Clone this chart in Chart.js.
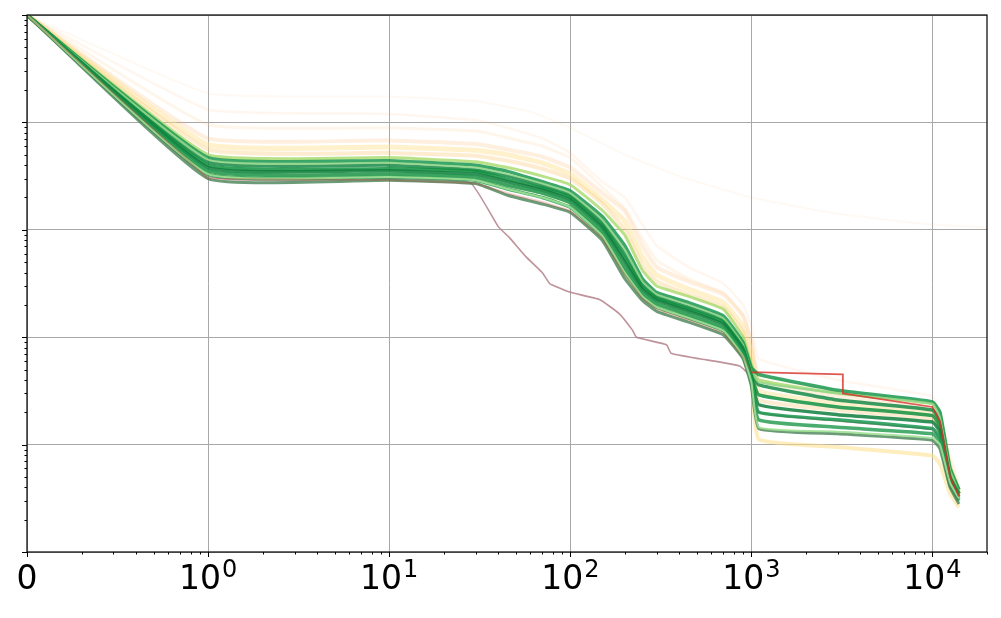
<!DOCTYPE html>
<html>
<head>
<meta charset="utf-8">
<script src="https://cdn.jsdelivr.net/npm/chart.js@4.4.0/dist/chart.umd.min.js"></script>
<style>
  html, body { margin: 0; padding: 0; background: #fff; }
  #wrap { width: 1001px; height: 618px; }
</style>
</head>
<body>
<div id="wrap"><canvas id="curves"></canvas></div>
<script>
// shared x positions (the first point, step 0, sits on the "0" tick at 0.1)
var steps = [0.1, 1, 10, 30, 45, 70, 100, 150, 200, 250, 300, 450, 700, 900, 1000, 1100, 3000, 10000, 11000, 12500, 14000];

// green runs
var green1 = [1, 4.7e-2, 4.4e-2, 4.0e-2, 3.5e-2, 2.8e-2, 2.3e-2, 1.33e-2, 7.1e-3, 3.5e-3, 2.6e-3, 2.1e-3, 1.58e-3, 8.9e-4, 5.2e-4, 4.5e-4, 3.2e-4, 2.5e-4, 2.0e-4, 6.0e-5, 3.8e-5];
var green2 = [1, 4.3e-2, 4.0e-2, 3.6e-2, 3.16e-2, 2.57e-2, 2.1e-2, 1.18e-2, 6.0e-3, 3.16e-3, 2.4e-3, 1.9e-3, 1.45e-3, 8.3e-4, 4.7e-4, 3.6e-4, 2.6e-4, 2.1e-4, 1.66e-4, 5.5e-5, 3.5e-5];
var green3 = [1, 4.0e-2, 3.7e-2, 3.5e-2, 2.95e-2, 2.45e-2, 2.0e-2, 1.1e-2, 5.4e-3, 2.95e-3, 2.3e-3, 1.82e-3, 1.38e-3, 7.9e-4, 4.4e-4, 2.9e-4, 2.24e-4, 1.86e-4, 1.48e-4, 5.0e-5, 3.5e-5];
var green4 = [1, 3.8e-2, 3.55e-2, 3.3e-2, 2.8e-2, 2.35e-2, 1.9e-2, 1.05e-2, 5.0e-3, 2.8e-3, 2.2e-3, 1.74e-3, 1.32e-3, 7.6e-4, 4.2e-4, 2.35e-4, 1.9e-4, 1.62e-4, 1.32e-4, 4.8e-5, 3.3e-5];
var green5 = [1, 3.55e-2, 3.3e-2, 3.1e-2, 2.6e-2, 2.2e-2, 1.78e-2, 9.6e-3, 4.4e-3, 2.6e-3, 2.05e-3, 1.62e-3, 1.23e-3, 7.1e-4, 4.0e-4, 2.0e-4, 1.7e-4, 1.41e-4, 1.17e-4, 4.5e-5, 3.16e-5];
var green6 = [1, 3.3e-2, 3.1e-2, 2.9e-2, 2.4e-2, 2.0e-2, 1.62e-2, 8.8e-3, 4.0e-3, 2.4e-3, 1.9e-3, 1.51e-3, 1.15e-3, 6.6e-4, 3.8e-4, 1.7e-4, 1.45e-4, 1.26e-4, 1.05e-4, 4.2e-5, 3.0e-5];
var green7 = [1, 3.0e-2, 2.9e-2, 2.7e-2, 2.1e-2, 1.74e-2, 1.45e-2, 8.0e-3, 3.5e-3, 2.2e-3, 1.74e-3, 1.38e-3, 1.05e-3, 6.3e-4, 3.5e-4, 1.41e-4, 1.26e-4, 1.1e-4, 9.1e-5, 4.0e-5, 2.8e-5];

// light green runs
var light1 = [1, 5.0e-2, 4.7e-2, 4.3e-2, 3.8e-2, 3.16e-2, 2.63e-2, 1.52e-2, 8.9e-3, 4.2e-3, 3.0e-3, 2.4e-3, 1.82e-3, 1.0e-3, 5.5e-4, 4.0e-4, 3.0e-4, 2.4e-4, 1.9e-4, 6.3e-5, 3.8e-5];
var light2 = [1, 3.3e-2, 3.1e-2, 2.9e-2, 2.4e-2, 2.0e-2, 1.62e-2, 8.8e-3, 4.0e-3, 2.4e-3, 1.9e-3, 1.51e-3, 1.15e-3, 6.6e-4, 3.8e-4, 1.45e-4, 1.32e-4, 1.15e-4, 1.0e-4, 4.4e-5, 3.16e-5];
var light3 = [1, 4.5e-2, 4.2e-2, 3.8e-2, 3.3e-2, 2.7e-2, 2.2e-2, 1.24e-2, 6.5e-3, 3.3e-3, 2.5e-3, 2.0e-3, 1.5e-3, 8.5e-4, 4.8e-4, 3.8e-4, 3.0e-4, 2.4e-4, 1.8e-4, 5.8e-5, 3.6e-5];

// yellow / orange runs
var pale1 = [1, 6.2e-2, 5.9e-2, 5.5e-2, 5.0e-2, 4.2e-2, 3.3e-2, 1.9e-2, 1.2e-2, 5.6e-3, 3.8e-3, 2.8e-3, 2.1e-3, 1.26e-3, 7.1e-4, 3.16e-4, 2.4e-4, 1.9e-4, 1.41e-4, 5.6e-5, 3.5e-5];
var pale2 = [1, 7.1e-2, 6.8e-2, 6.3e-2, 5.6e-2, 4.8e-2, 3.8e-2, 2.2e-2, 1.5e-2, 7.1e-3, 4.5e-3, 3.3e-3, 2.5e-3, 1.58e-3, 8.9e-4, 4.0e-4, 2.8e-4, 2.1e-4, 1.58e-4, 6.3e-5, 3.8e-5];
var pale3 = [1, 1.32e-1, 1.2e-1, 1.05e-1, 8.9e-2, 7.1e-2, 5.2e-2, 2.8e-2, 2.0e-2, 1.12e-2, 7.1e-3, 4.5e-3, 3.16e-3, 2.0e-3, 1.26e-3, 6.3e-4, 4.0e-4, 2.8e-4, 2.0e-4, 7.9e-5, 4.5e-5];
var pale4 = [1, 3.5e-2, 3.3e-2, 3.1e-2, 2.6e-2, 2.2e-2, 1.78e-2, 9.6e-3, 4.4e-3, 2.6e-3, 2.05e-3, 1.62e-3, 1.23e-3, 7.1e-4, 4.0e-4, 1.12e-4, 9.5e-5, 7.9e-5, 6.6e-5, 3.5e-5, 2.6e-5];
var pale5 = [1, 5.6e-2, 5.2e-2, 4.9e-2, 4.4e-2, 3.7e-2, 3.0e-2, 1.76e-2, 1.0e-2, 4.7e-3, 3.3e-3, 2.5e-3, 1.9e-3, 1.12e-3, 6.0e-4, 2.6e-4, 2.1e-4, 1.74e-4, 1.32e-4, 5.2e-5, 3.5e-5];
var pale6 = [1, 9.5e-2, 8.9e-2, 8.3e-2, 7.2e-2, 6.0e-2, 4.7e-2, 2.5e-2, 1.58e-2, 8.3e-3, 5.2e-3, 3.5e-3, 2.6e-3, 1.58e-3, 9.5e-4, 4.5e-4, 3.16e-4, 2.4e-4, 1.78e-4, 7.1e-5, 4.0e-5];

// one faint run that goes on to the right edge
var longSteps = [0.1, 1, 10, 30, 60, 100, 200, 400, 1000, 3000, 10000, 20000];
var longRun = [1, 1.86e-1, 1.74e-1, 1.58e-1, 1.26e-1, 8.9e-2, 5.0e-2, 3.16e-2, 2.0e-2, 1.41e-2, 1.12e-2, 1.05e-2];

// red run with the step at ~3200
var redSteps = [0.1, 1, 10, 30, 45, 70, 100, 150, 200, 250, 300, 450, 700, 900, 1000, 1150, 3200, 3200, 10000, 11000, 12500, 14000];
var redRun = [1, 3.0e-2, 2.9e-2, 2.7e-2, 2.2e-2, 1.82e-2, 1.51e-2, 8.4e-3, 3.8e-3, 2.3e-3, 1.82e-3, 1.45e-3, 1.1e-3, 6.6e-4, 4.7e-4, 4.7e-4, 4.5e-4, 3.0e-4, 2.24e-4, 1.66e-4, 5.0e-5, 3.3e-5];

// the early-dropping run
var dropSteps = [0.1, 1, 10, 28, 40, 46, 57, 70, 77, 99, 145, 186, 220, 232, 340, 360, 517, 860, 1000, 1100, 3000, 10000, 11000, 12500, 14000];
var dropRun = [1, 3.16e-2, 3.0e-2, 2.75e-2, 1.07e-2, 8.5e-3, 5.6e-3, 4.0e-3, 3.16e-3, 2.63e-3, 2.24e-3, 1.66e-3, 1.17e-3, 1.0e-3, 8.5e-4, 7.1e-4, 6.3e-4, 5.4e-4, 4.2e-4, 2.0e-4, 1.66e-4, 1.38e-4, 1.1e-4, 5.0e-5, 3.4e-5];

var xTicks = [0.1, 1, 10, 100, 1000, 10000];
var xTickBase = ['0', '10', '10', '10', '10', '10'];
var xTickPower = ['', '0', '1', '2', '3', '4'];
var yTicks = [1e-5, 1e-4, 1e-3, 1e-2, 1e-1, 1];

function pts(xs, ys) {
    return xs.map(function(x, i) { return { x: x, y: ys[i] }; });
}

function run(xs, ys, color, width, tension) {
    return {
        data: pts(xs, ys),
        borderColor: color,
        borderWidth: width,
        pointRadius: 0,
        fill: false,
        tension: tension === undefined ? 0.12 : tension
    };
}

var redLine = run(redSteps, redRun, 'rgba(215,48,39,0.8)', 1.8, 0);
// the red run only stands out once it leaves the band
redLine.segment = {
    borderColor: function(ctx) {
        return ctx.p0.parsed.x < 1000 ? 'rgba(215,48,39,0.25)' : 'rgba(215,48,39,0.8)';
    }
};

// listed back to front
var layers = [
    run(longSteps, longRun, 'rgba(253,174,97,0.08)', 2),
    run(steps, pale3, 'rgba(253,174,97,0.1)', 2.5),
    run(steps, pale6, 'rgba(253,190,110,0.14)', 3),
    run(steps, pale2, 'rgba(253,174,97,0.2)', 4),
    run(steps, pale1, 'rgba(254,224,139,0.45)', 5),
    run(steps, pale5, 'rgba(250,200,120,0.35)', 4),
    run(steps, pale4, 'rgba(254,224,139,0.55)', 4),
    run(dropSteps, dropRun, 'rgba(175,120,130,0.8)', 1.6),
    run(steps, light1, 'rgba(166,217,106,0.8)', 3),
    run(steps, green1, 'rgba(26,152,80,0.85)', 3.5),
    run(steps, green2, 'rgba(22,138,69,0.85)', 3.5),
    run(steps, light3, 'rgba(150,215,140,0.9)', 2),
    run(steps, green3, 'rgba(17,144,63,0.85)', 3.5),
    run(steps, green4, 'rgba(15,127,60,0.85)', 3.5),
    run(steps, green5, 'rgba(26,152,80,0.85)', 3.5),
    run(steps, green6, 'rgba(42,157,85,0.85)', 3.5),
    run(steps, green7, 'rgba(70,130,85,0.8)', 3),
    run(steps, light2, 'rgba(160,225,150,0.9)', 2),
    redLine
];

var frameAndTicks = {
    id: 'frameAndTicks',
    afterDraw: function(chart) {
        var ctx = chart.ctx;
        var a = chart.chartArea;
        var sx = chart.scales.x;
        var sy = chart.scales.y;
        ctx.save();
        ctx.strokeStyle = '#000';
        ctx.lineWidth = 1.2;
        ctx.strokeRect(a.left, a.top, a.right - a.left, a.bottom - a.top);
        ctx.lineWidth = 1;
        ctx.beginPath();
        for (var e = -1; e <= 4; e++) {
            for (var m = 1; m <= 9; m++) {
                var v = m * Math.pow(10, e);
                if (v > 2e4) continue;
                var px = Math.round(sx.getPixelForValue(v)) + 0.5;
                ctx.moveTo(px, a.bottom);
                ctx.lineTo(px, a.bottom + (m === 1 ? 5 : 2.5));
            }
        }
        for (var k = -5; k <= 0; k++) {
            for (var n = 1; n <= 9; n++) {
                var w = n * Math.pow(10, k);
                if (w > 1) continue;
                var py = Math.round(sy.getPixelForValue(w)) + 0.5;
                ctx.moveTo(a.left, py);
                ctx.lineTo(a.left - (n === 1 ? 5 : 2.5), py);
            }
        }
        ctx.stroke();

        // x tick labels as 10 with a raised power
        var big = '33px "DejaVu Sans"';
        var small = '24px "DejaVu Sans"';
        var baseY = a.bottom + 37;
        ctx.fillStyle = '#000';
        ctx.textBaseline = 'alphabetic';
        ctx.textAlign = 'left';
        xTicks.forEach(function(t, i) {
            ctx.font = big;
            var w1 = ctx.measureText(xTickBase[i]).width;
            ctx.font = small;
            var w2 = xTickPower[i] ? ctx.measureText(xTickPower[i]).width + 1 : 0;
            var left = sx.getPixelForValue(t) - (w1 + w2) / 2;
            ctx.font = big;
            ctx.fillText(xTickBase[i], left, baseY);
            if (xTickPower[i]) {
                ctx.font = small;
                ctx.fillText(xTickPower[i], left + w1 + 1, baseY - 12);
            }
        });
        ctx.restore();
    }
};

var chart = new Chart(document.getElementById('curves').getContext('2d'), {
    type: 'line',
    data: { datasets: layers.slice().reverse() },
    options: {
        responsive: true,
        maintainAspectRatio: false,
        animation: false,
        layout: { padding: { left: 27, top: 15, right: 14, bottom: 0 } },
        plugins: { legend: { display: false }, tooltip: { enabled: false } },
        scales: {
            x: {
                type: 'logarithmic',
                min: 0.1,
                max: 2e4,
                afterBuildTicks: function(s) {
                    s.ticks = xTicks.map(function(v) { return { value: v }; });
                },
                afterFit: function(s) { s.height = 66; },
                ticks: { display: false },
                grid: { color: '#a8a8a8', lineWidth: 1, drawTicks: false },
                border: { display: false }
            },
            y: {
                type: 'logarithmic',
                min: 1e-5,
                max: 1,
                afterBuildTicks: function(s) {
                    s.ticks = yTicks.map(function(v) { return { value: v }; });
                },
                afterFit: function(s) { s.width = 0; },
                ticks: { display: false },
                grid: { color: '#a8a8a8', lineWidth: 1, drawTicks: false },
                border: { display: false }
            }
        }
    },
    plugins: [frameAndTicks]
});
</script>
</body>
</html>
